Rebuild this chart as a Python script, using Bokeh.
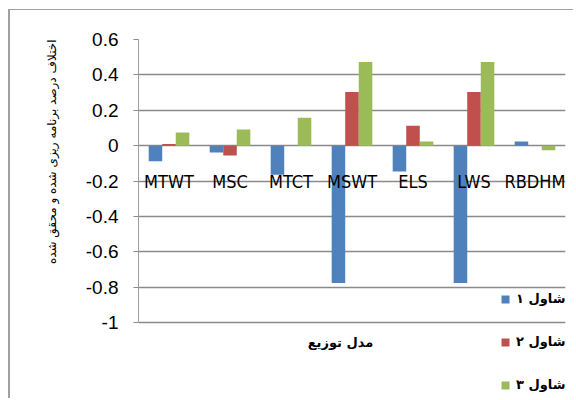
from bokeh.plotting import figure
from bokeh.models import (ColumnDataSource, FactorRange, Range1d, FixedTicker,
                          CustomJSTickFormatter, Legend, LegendItem, Label, Title)
from bokeh.transform import dodge
from bokeh.core.properties import value
from bokeh.embed import file_html
from bokeh.resources import INLINE

categories = ["MTWT", "MSC", "MTCT", "MSWT", "ELS", "LWS", "RBDHM"]
series1 = [-0.088, -0.038, -0.165, -0.776, -0.146, -0.776, 0.023]
series2 = [0.01, -0.055, 0.0, 0.304, 0.113, 0.304, 0.0]
series3 = [0.075, 0.092, 0.158, 0.473, 0.023, 0.473, -0.026]
legend_labels = ["شاول ۱", "شاول ۲", "شاول ۳"]
y_ticks = [-1, -0.8, -0.6, -0.4, -0.2, 0, 0.2, 0.4, 0.6]
y_title = "اختلاف درصد برنامه ریزی شده و محقق شده"
x_title = "مدل توزیع"

colors = ["#4F81BD", "#C0504D", "#9BBB59"]

src = ColumnDataSource(dict(cat=categories, s1=series1, s2=series2, s3=series3))

# frame extends below -1 so legend and x title (which overlap it) are not clipped
y_low = -1 - 77.0 / 177.2
p = figure(width=565, height=389, x_range=FactorRange(*categories),
           y_range=Range1d(y_low, 0.6), output_backend="svg", toolbar_location=None,
           min_border_left=128, min_border_right=10, min_border_top=29,
           min_border_bottom=0)
p.styles = {"margin-left": "8px", "margin-top": "9px",
            "border-left": "2px solid #a0a0a0", "border-top": "1px solid #a0a0a0"}
p.outline_line_color = None
p.background_fill_color = "white"
p.border_fill_color = "white"

offsets = [-0.222, 0.0, 0.222]
renderers = []
for col, off, c in zip(["s1", "s2", "s3"], offsets, colors):
    r = p.vbar(x=dodge("cat", off, range=p.x_range), top=col, bottom=0,
               width=0.222, source=src, fill_color=c, line_color=None)
    renderers.append(r)

# category labels drawn over the bars, just below the zero line
p.text(x="cat", y=-0.2, text="cat", source=src, text_align="center",
       text_baseline="middle", text_font=value("DejaVu Sans Condensed"),
       text_font_size="18px", text_color="black")

# grid
p.xgrid.grid_line_color = None
p.ygrid.ticker = FixedTicker(ticks=y_ticks)
p.ygrid.grid_line_color = "#8a8a8a"
p.ygrid.grid_line_width = 1.5

p.xaxis.visible = False

# y axis
ya = p.yaxis[0]
ya.ticker = FixedTicker(ticks=y_ticks)
ya.bounds = (-1, 0.6)
ya.formatter = CustomJSTickFormatter(code="return Number(tick.toFixed(1)).toString();")
ya.axis_line_color = "#a0a0a0"
ya.major_tick_line_color = "#8a8a8a"
ya.major_tick_out = 5
ya.major_tick_in = 0
ya.minor_tick_line_color = None
ya.major_label_standoff = 15
ya.major_label_text_font = "Liberation Sans"
ya.major_label_text_font_size = "19px"
ya.major_label_text_color = "black"

# titles
p.add_layout(Title(text=y_title, align="right", offset=0, standoff=47,
                   text_font="DejaVu Sans", text_font_size="12px",
                   text_font_style="normal", text_color="black"), "left")
p.add_layout(Label(x=202, y=57, x_units="screen", y_units="screen", text=x_title,
                   text_align="center", text_baseline="middle",
                   text_font="DejaVu Sans", text_font_size="13px",
                   text_color="black", text_font_style="bold"))

legend = Legend(items=[LegendItem(label=l, renderers=[r]) for l, r in zip(legend_labels, renderers)],
                location=(362, 7), orientation="vertical",
                background_fill_alpha=0, border_line_color=None,
                glyph_width=10, glyph_height=10, label_height=14, spacing=28,
                padding=0, margin=0, label_standoff=6,
                label_text_font="DejaVu Sans", label_text_font_size="13px",
                label_text_font_style="bold", label_text_color="black")
p.add_layout(legend, "center")

open("out.html", "w").write(file_html(p, INLINE))
